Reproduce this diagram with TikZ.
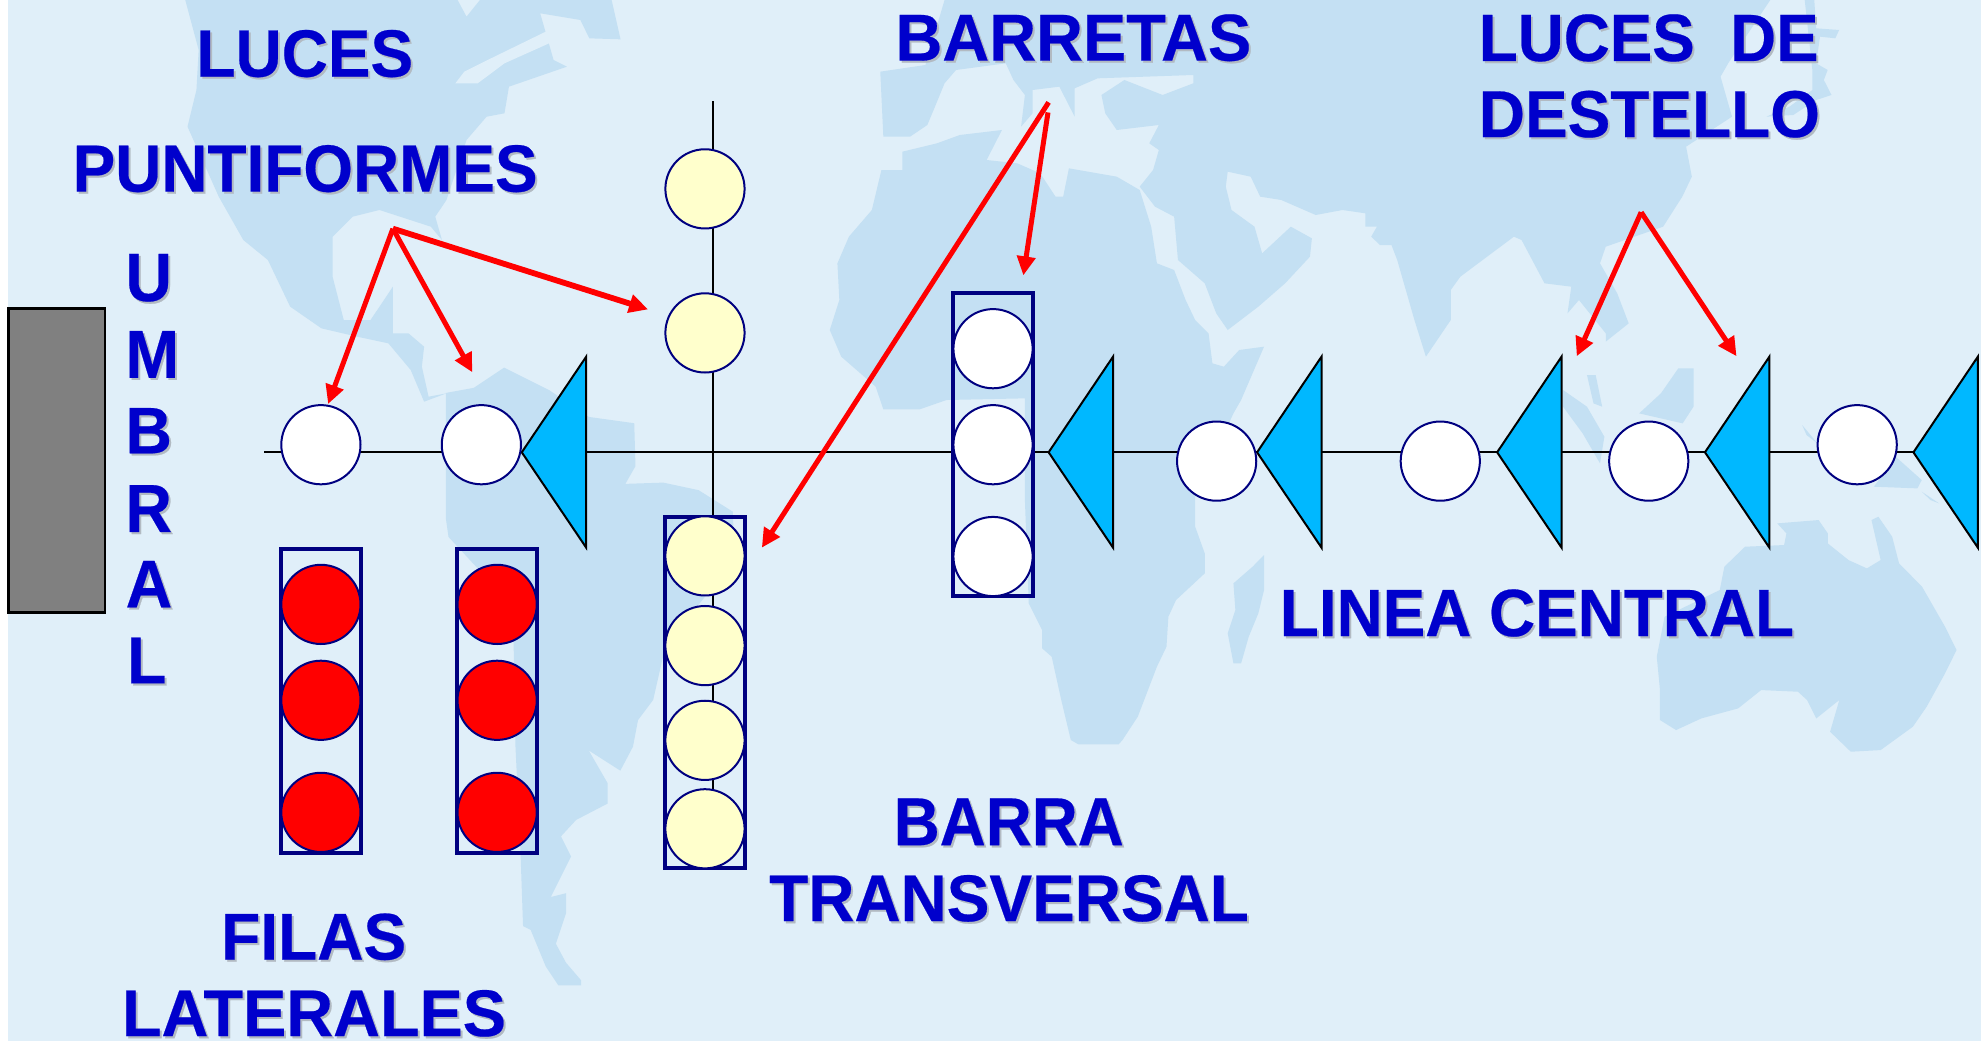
\documentclass[tikz,border=0pt]{standalone}
\usepackage{fontspec}
\setmainfont{Liberation Sans}[BoldFeatures={FakeBold=0.35}]
\usetikzlibrary{arrows.meta,calc}
\definecolor{sea}{HTML}{E0EFF9}
\definecolor{land}{HTML}{C4E0F3}
\definecolor{lblue}{HTML}{0000CC}
\definecolor{shade}{HTML}{B2BAC2}
\definecolor{navy}{HTML}{000080}
\definecolor{cyanfill}{HTML}{00B8FF}
\definecolor{cream}{HTML}{FFFFCC}
\tikzset{
  lamp/.style={circle,draw=navy,line width=1pt,minimum size=39.6pt,inner sep=0pt},
  whitelamp/.style={lamp,fill=white},
  yellowlamp/.style={lamp,fill=cream},
  redlamp/.style={lamp,fill=red},
  lampbox/.style={rectangle,draw=navy,line width=2pt,minimum width=40.2pt,inner sep=0pt},
  wire/.style={draw=black,line width=1pt},
  flasher/.style={draw=black,fill=cyanfill,line width=1pt,line join=miter},
  pointer/.style={draw=red,line width=2.5pt,-{Triangle[length=9.5pt,width=9pt]}},
  landmass/.style={fill=land},
  title/.style={anchor=south west,inner sep=0pt,outer sep=0pt,text=lblue}
}
\newcommand{\shadowed}[1]{\rlap{\smash{\textcolor{shade}{\kern1pt\raisebox{-1pt}{#1}}}}#1}
% name, left, right, top, bottom, text (all in picture units)
\newcommand{\lbl}[6]{%
  \pgfmathsetlengthmacro\lblw{(#3-#2)*0.6317pt}%
  \pgfmathsetlengthmacro\lblh{(#5-#4)*0.6317pt}%
  \node[title] (#1) at (#2,#5) {\resizebox*{\lblw}{\lblh}{\fontsize{32pt}{36pt}\selectfont\bfseries\shadowed{#6}}};}
\newcommand{\flash}[2]{%
  \coordinate (#1) at (#2,358);
  \draw[flasher] (#1) -- ($(#1)+(51,-75.7)$) -- ($(#1)+(51,75.5)$) -- cycle;}
\begin{document}
\begin{tikzpicture}[x=0.6317pt,y=-0.6317pt]
\useasboundingbox (0,0) rectangle (1568,824);
\fill[white] (0,0) rectangle (1568,824);
\fill[sea] (6.4,0) rectangle (1568,824);
% ---- map: Americas
\begin{scope}[xscale=0.35336,yscale=0.26385]
\fill[landmass] (415,0) -- (1025,0) -- (1045,50) -- (1075,0) -- (1370,0) -- (1390,118) -- (1320,115) -- (1300,60) -- (1210,40) -- (1240,180) -- (1270,200) -- (1140,260) -- (1130,340) -- (1090,350) -- (1045,420) -- (1000,600) -- (975,650) -- (990,720) -- (965,680) -- (850,630) -- (790,650) -- (745,710) -- (745,830) -- (770,960) -- (830,960) -- (880,860) -- (880,1000) -- (915,1000) -- (950,1040) -- (945,1100) -- (960,1190) -- (1000,1180) -- (950,1205) -- (920,1110) -- (870,1030) -- (800,1010) -- (720,985) -- (650,920) -- (600,780) -- (545,720) -- (490,590) -- (420,380) -- (440,270) -- (445,150) -- cycle;
\fill[sea] (1020,250) -- (1040,215) -- (1100,175) -- (1230,90) -- (1230,130) -- (1130,190) -- (1070,250) -- cycle;
\end{scope}
\fill[landmass] (353,311) -- (375,307) -- (399,291) -- (435,309) -- (466,330) -- (502,335) -- (503,369) -- (495,383) -- (525,382) -- (553,388) -- (580,405) -- (581,430) -- (560,470) -- (527,510) -- (517,554) -- (505,570) -- (501,591) -- (491,610) -- (466,594) -- (481,620) -- (481,636) -- (456,649) -- (444,662) -- (452,678) -- (436,710) -- (448,707) -- (448,723) -- (440,747) -- (448,762) -- (460,776) -- (460,780) -- (442,780) -- (432,765) -- (420,736) -- (414,733) -- (412,675) -- (408,591) -- (406,480) -- (355,425) -- (353,411) -- cycle;
% ---- map: Eurasia, Africa
\begin{scope}[shift={(617.4,0)},xscale=0.30285,yscale=0.26385]
\fill[landmass] (430,0) -- (2588,0) -- (2478,190) -- (2458,230) -- (2488,350) -- (2368,440) -- (2383,530) -- (2358,590) -- (2308,680) -- (2158,740) -- (2143,790) -- (2188,880) -- (2218,970) -- (2158,1025) -- (2158,1000) -- (2088,900) -- (2058,940) -- (2068,860) -- (1998,850) -- (1938,720) -- (1918,710) -- (1778,830) -- (1753,870) -- (1753,960) -- (1688,1070) -- (1658,960) -- (1613,780) -- (1598,735) -- (1568,735) -- (1545,710) -- (1560,680) -- (1530,680) -- (1530,640) -- (1470,630) -- (1400,645) -- (1310,600) -- (1255,590) -- (1230,530) -- (1170,515) -- (1165,560) -- (1180,630) -- (1240,680) -- (1260,760) -- (1335,680) -- (1390,715) -- (1385,770) -- (1320,850) -- (1250,920) -- (1170,990) -- (1140,940) -- (1110,850) -- (1040,780) -- (1030,650) -- (980,620) -- (940,560) -- (975,510) -- (990,450) -- (965,430) -- (990,375) -- (880,390) -- (850,340) -- (840,285) -- (900,240) -- (1000,285) -- (1080,250) -- (1080,225) -- (830,235) -- (770,265) -- (770,350) -- (730,260) -- (660,270) -- (660,340) -- (630,380) -- (640,285) -- (610,240) -- (590,190) -- (460,210) -- (430,250) -- (405,320) -- (385,375) -- (340,410) -- (270,410) -- (262,215) -- (380,195) -- cycle;
\fill[landmass] (2678,0) -- (2703,0) -- (2708,85) -- (2768,90) -- (2758,115) -- (2718,110) -- (2708,190) -- (2738,210) -- (2728,240) -- (2748,285) -- (2708,300) -- (2648,345) -- (2578,350) -- (2638,320) -- (2698,270) -- (2698,210) -- cycle;
\fill[landmass] (320,455) -- (410,430) -- (470,405) -- (580,390) -- (540,480) -- (620,490) -- (680,520) -- (720,590) -- (740,590) -- (755,505) -- (880,530) -- (940,570) -- (970,680) -- (985,790) -- (1030,810) -- (1060,900) -- (1085,960) -- (1120,1000) -- (1130,1090) -- (1160,1100) -- (1200,1050) -- (1265,1040) -- (1205,1200) -- (1185,1240) -- (1085,1490) -- (1085,1580) -- (1110,1660) -- (1110,1720) -- (1035,1800) -- (1015,1850) -- (1010,1940) -- (985,2000) -- (935,2150) -- (895,2220) -- (885,2233) -- (780,2233) -- (760,2220) -- (735,2100) -- (710,1970) -- (685,1945) -- (685,1890) -- (650,1810) -- (640,1500) -- (640,1195) -- (435,1200) -- (365,1228) -- (270,1228) -- (250,1160) -- (160,1070) -- (130,990) -- (155,900) -- (150,790) -- (180,710) -- (240,630) -- (265,510) -- (320,510) -- cycle;
\fill[landmass] (1265,1665) -- (1265,1770) -- (1250,1840) -- (1225,1910) -- (1205,1990) -- (1185,1990) -- (1170,1900) -- (1190,1830) -- (1185,1750) -- (1235,1700) -- cycle;
\end{scope}
% ---- map: islands
\begin{scope}[shift={(1029,142.5)},xscale=0.34412,yscale=0.26385]
\fill[landmass] (605,630) -- (660,680) -- (700,770) -- (690,850) -- (650,760) -- (605,680) -- cycle;
\fill[landmass] (660,585) -- (680,585) -- (695,680) -- (675,670) -- cycle;
\fill[landmass] (870,565) -- (905,565) -- (905,680) -- (880,730) -- (780,700) -- (830,640) -- cycle;
\fill[landmass] (1155,735) -- (1190,790) -- (1165,765) -- cycle;
\fill[landmass] (1370,830) -- (1430,900) -- (1420,925) -- (1320,920) -- cycle;
\fill[landmass] (1430,935) -- (1470,970) -- (1450,960) -- cycle;
\end{scope}
% ---- map: Australia
\begin{scope}[shift={(997.3,395.8)},xscale=0.3639,yscale=0.26385]
\fill[landmass] (1125,70) -- (1215,60) -- (1235,100) -- (1235,130) -- (1280,180) -- (1320,205) -- (1350,180) -- (1330,60) -- (1345,50) -- (1375,110) -- (1390,190) -- (1440,260) -- (1490,380) -- (1515,450) -- (1490,520) -- (1450,620) -- (1420,680) -- (1350,750) -- (1285,755) -- (1240,695) -- (1260,600) -- (1210,655) -- (1190,600) -- (1170,575) -- (1090,570) -- (1040,625) -- (960,655) -- (905,690) -- (870,660) -- (870,570) -- (863,470) -- (880,350) -- (1000,270) -- (1010,200) -- (1055,140) -- (1140,135) -- (1145,100) -- cycle;
\end{scope}
% ---- threshold
\node[draw=black,line width=1.2pt,fill=gray,minimum width=48.2pt,minimum height=152pt,inner sep=0pt] (umbral) at (45,364.5) {};
% ---- wires
\coordinate (hL) at (209,358);
\coordinate (hR) at (1515,358);
\coordinate (vT) at (564,80);
\coordinate (vB) at (564,640);
\draw[wire] (hL) -- (hR);
\draw[wire] (vT) -- (vB);
% ---- flashers
\flash{fa}{413}
\flash{fb}{830}
\flash{fc}{995}
\flash{fd}{1185}
\flash{fe}{1349.5}
\flash{ff}{1514.5}
% ---- boxes
\node[lampbox,minimum height=152pt] (boxa) at (254,554.5) {};
\node[lampbox,minimum height=152pt] (boxb) at (393.5,554.5) {};
\node[lampbox,minimum height=175.7pt] (boxc) at (558,548.2) {};
\node[lampbox,minimum height=151.4pt] (boxd) at (786,352) {};
% ---- lamps
\node[whitelamp] (w1) at (254,352) {};
\node[whitelamp] (w2) at (381,352) {};
\node[whitelamp] (w3) at (786,276) {};
\node[whitelamp] (w4) at (786,352) {};
\node[whitelamp] (w5) at (786,440.5) {};
\node[whitelamp] (w6) at (963,365) {};
\node[whitelamp] (w7) at (1140,365) {};
\node[whitelamp] (w8) at (1305,365) {};
\node[whitelamp] (w9) at (1470,352) {};
\node[yellowlamp] (y1) at (558,149.5) {};
\node[yellowlamp] (y2) at (558,263.5) {};
\node[yellowlamp] (y3) at (558,440) {};
\node[yellowlamp] (y4) at (558,511) {};
\node[yellowlamp] (y5) at (558,586) {};
\node[yellowlamp] (y6) at (558,656) {};
\node[redlamp] (r1) at (254,478.4) {};
\node[redlamp] (r2) at (254,554.3) {};
\node[redlamp] (r3) at (254,643) {};
\node[redlamp] (r4) at (393.5,478.4) {};
\node[redlamp] (r5) at (393.5,554.3) {};
\node[redlamp] (r6) at (393.5,643) {};
% ---- pointers
\coordinate (pa) at (311,181);
\coordinate (pa1) at (259.7,319.8);
\coordinate (pa2) at (373.9,294.7);
\coordinate (pa3) at (513,244.9);
\coordinate (pb) at (830,81);
\coordinate (pb1) at (603,433.5);
\coordinate (pc) at (829.5,89);
\coordinate (pc1) at (810,218);
\coordinate (pd) at (1299,168);
\coordinate (pd1) at (1248,282);
\coordinate (pd2) at (1374.5,282);
\draw[pointer] (pa) -- (pa1);
\draw[pointer] (pa) -- (pa2);
\draw[pointer,line width=2.9pt] (pa) -- (pa3);
\draw[pointer] (pb) -- (pb1);
\draw[pointer] (pc) -- (pc1);
\draw[pointer] (pd) -- (pd1);
\draw[pointer] (pd) -- (pd2);
% ---- titles
\lbl{t1}{155.5}{327}{23.7}{61.2}{LUCES}
\lbl{t2}{57.5}{425.5}{114.8}{152.2}{PUNTIFORMES}
\lbl{u1}{99.3}{136.1}{201}{238.8}{U}
\lbl{u2}{99.3}{141.8}{262}{299}{M}
\lbl{u3}{99.3}{136.1}{323}{358.8}{B}
\lbl{u4}{99.3}{136.1}{384}{421}{R}
\lbl{u5}{99.5}{136.3}{444}{480.7}{A}
\lbl{u6}{100.5}{131.7}{504.7}{540.9}{L}
\lbl{t3}{175}{321.5}{723}{760}{FILAS}
\lbl{t4}{96.5}{400.5}{783.6}{820.6}{LATERALES}
\lbl{t5}{708.8}{990.4}{11.3}{48.5}{BARRETAS}
\lbl{t6}{1170.5}{1439.5}{11.3}{48.8}{LUCES\ \ DE}
\lbl{t7}{1170.5}{1440.5}{71.8}{109}{DESTELLO}
\lbl{t8}{1013}{1420}{466.5}{504}{LINEA CENTRAL}
\lbl{t9}{707.4}{889.5}{632}{669}{BARRA}
\lbl{t10}{608.8}{988.5}{692.6}{729.6}{TRANSVERSAL}
\end{tikzpicture}
\end{document}
